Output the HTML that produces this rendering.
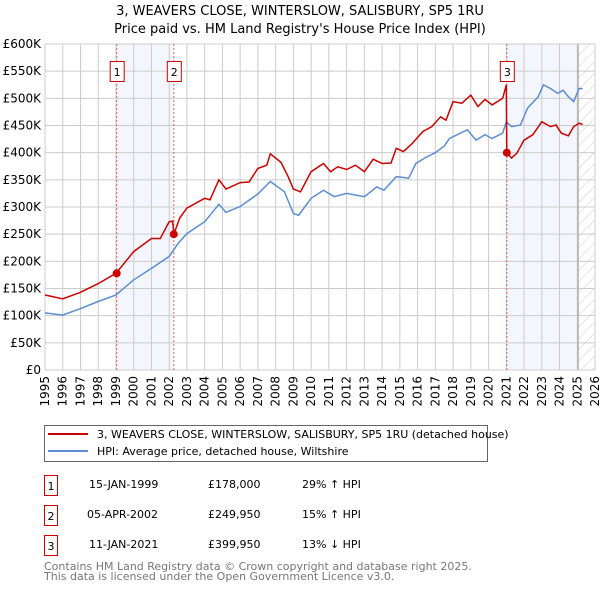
<!DOCTYPE html>
<html><head><meta charset="utf-8"><style>
body{margin:0;background:#fff;width:600px;height:590px;overflow:hidden;font-family:"DejaVu Sans","Liberation Sans",sans-serif}
svg text{font-family:"DejaVu Sans","Liberation Sans",sans-serif}
</style></head><body>
<svg id="chart" width="600" height="590" xmlns="http://www.w3.org/2000/svg">
<defs><pattern id="hatch" width="8" height="8" patternUnits="userSpaceOnUse" patternTransform="rotate(45)"><line x1="0" y1="0" x2="0" y2="8" stroke="#ccc" stroke-width="1"/></pattern></defs>
<text x="300" y="15" text-anchor="middle" font-size="13">3, WEAVERS CLOSE, WINTERSLOW, SALISBURY, SP5 1RU</text>
<text x="300" y="33" text-anchor="middle" font-size="13">Price paid vs. HM Land Registry's House Price Index (HPI)</text>
<g id="plot"></g>
<g>
<rect x="44.5" y="425.5" width="443" height="36" fill="#fff" stroke="#666"/>
<line x1="48" y1="434" x2="88" y2="434" stroke="#cc0000" stroke-width="2"/>
<text x="97" y="438" font-size="11">3, WEAVERS CLOSE, WINTERSLOW, SALISBURY, SP5 1RU (detached house)</text>
<line x1="48" y1="451" x2="88" y2="451" stroke="#5b8dd0" stroke-width="2"/>
<text x="97" y="455" font-size="11">HPI: Average price, detached house, Wiltshire</text>
</g>
<g font-size="11">
<rect x="44.5" y="475.5" width="13" height="20" fill="#fff" stroke="#cc0000"/><text x="51" y="490" text-anchor="middle">1</text>
<text x="89" y="488">15-JAN-1999</text><text x="208" y="488">£178,000</text><text x="302" y="488">29% ↑ HPI</text>
<rect x="44.5" y="505.5" width="13" height="20" fill="#fff" stroke="#cc0000"/><text x="51" y="520" text-anchor="middle">2</text>
<text x="87" y="518">05-APR-2002</text><text x="208" y="518">£249,950</text><text x="302" y="518">15% ↑ HPI</text>
<rect x="44.5" y="535.5" width="13" height="20" fill="#fff" stroke="#cc0000"/><text x="51" y="550" text-anchor="middle">3</text>
<text x="89" y="548">11-JAN-2021</text><text x="208" y="548">£399,950</text><text x="302" y="548">13% ↓ HPI</text>
</g>
<text x="44" y="570" font-size="11" fill="#777">Contains HM Land Registry data © Crown copyright and database right 2025.</text>
<text x="44" y="580" font-size="11" fill="#777">This data is licensed under the Open Government Licence v3.0.</text>
</svg>
<script>
const yTicks=[0,50,100,150,200,250,300,350,400,450,500,550,600];
const yTickLabels=["£0","£50K","£100K","£150K","£200K","£250K","£300K","£350K","£400K","£450K","£500K","£550K","£600K"];
const xYears=[1995,1996,1997,1998,1999,2000,2001,2002,2003,2004,2005,2006,2007,2008,2009,2010,2011,2012,2013,2014,2015,2016,2017,2018,2019,2020,2021,2022,2023,2024,2025,2026];
const hpiT=[1995,1996,1997,1998,1999,2000,2001,2002,2002.5,2003,2004,2004.8,2005.2,2006,2007,2007.7,2008.5,2009,2009.3,2010,2010.7,2011.3,2012,2013,2013.7,2014.1,2014.8,2015.5,2015.9,2016.5,2017,2017.5,2017.8,2018.8,2019.3,2019.8,2020.2,2020.8,2021.0,2021.3,2021.8,2022.2,2022.8,2023.1,2023.5,2023.9,2024.2,2024.5,2024.8,2025.1,2025.3];
const hpiV=[105,101,113,126,138,166,187,209,233,251,273,305,290,301,324,347,328,288,285,316,331,319,325,319,337,331,356,353,380,392,400,412,426,442,423,433,426,436,457,448,451,482,503,525,518,509,515,503,494,518,518];
const paidT=[1995,1996,1997,1998,1999,2000,2001,2001.5,2002,2002.2,2002.26,2002.6,2003,2004,2004.3,2004.8,2005.2,2006,2006.5,2007,2007.5,2007.7,2008.3,2008.7,2009,2009.4,2010,2010.7,2011.1,2011.5,2012,2012.5,2013,2013.5,2014,2014.5,2014.8,2015.2,2015.7,2016.3,2016.8,2017.3,2017.6,2018,2018.5,2019,2019.4,2019.8,2020.2,2020.8,2021.0,2021.03,2021.3,2021.6,2022,2022.5,2023,2023.5,2023.8,2024.1,2024.5,2024.8,2025.1,2025.3];
const paidV=[138,131,143,159,178,218,242,242,273,274,250,280,298,316,313,350,333,345,346,371,377,398,382,356,333,328,365,380,365,374,369,377,365,388,380,381,408,402,417,439,448,466,460,494,491,506,485,498,488,500,525,400,390,399,423,433,457,448,451,436,431,448,454,452];
const saleT=[1999.04,2002.26,2021.03];
const saleV=[178,249.95,399.95];
const saleLabels=["1","2","3"];
const NS="http://www.w3.org/2000/svg";
const L=45,R=595,T=44,B=370;
const xs=t=>L+(t-1995)*(R-L)/31;
const ys=v=>B-v*(B-T)/600;
const g=document.getElementById('plot');
function mk(tag,attrs,parent){const e=document.createElementNS(NS,tag);for(const k in attrs)e.setAttribute(k,attrs[k]);(parent||g).appendChild(e);return e;}
// shaded spans
let s1=mk('rect',{x:xs(saleT[0]),y:T,width:xs(saleT[1])-xs(saleT[0]),height:B-T,fill:'#eef3fc',opacity:0.7});


let s2=mk('rect',{x:xs(saleT[2]),y:T,width:xs(2025.05)-xs(saleT[2]),height:B-T,fill:'#eef3fc',opacity:0.7});


let h=mk('rect',{x:xs(2025.05),y:T,width:R-xs(2025.05),height:B-T,fill:'url(#hatch)'});


// grid
yTicks.forEach((v,i)=>{
  let l=mk('line',{x1:L,x2:R,y1:ys(v),y2:ys(v),stroke:'#ccc','stroke-width':1});
  
  
  let t=mk('text',{x:L-4,y:ys(v)+4,'text-anchor':'end','font-size':'12'});t.textContent=yTickLabels[i];
  
  
});
xYears.forEach(y=>{
  let l=mk('line',{x1:xs(y),x2:xs(y),y1:T,y2:B,stroke:'#ccc','stroke-width':1});
  
  
  let t=mk('text',{transform:`translate(${xs(y)+4},${B+6}) rotate(-90)`,'text-anchor':'end','font-size':'12'});t.textContent=y;
  
  
});
let ln=mk('line',{x1:xs(2025.05),x2:xs(2025.05),y1:T,y2:B,stroke:'#999','stroke-width':1});


let fr=mk('rect',{x:L,y:T,width:R-L,height:B-T,fill:'none',stroke:'#ccc'});


// sale markers lines & labels
saleT.forEach((t,i)=>{
  let l=mk('line',{x1:xs(t),x2:xs(t),y1:T,y2:B,stroke:'#e06060','stroke-width':1,'stroke-dasharray':'2,2'});
  
  
});
const pts=(T_,V_)=>T_.map((t,i)=>xs(t).toFixed(1)+','+ys(V_[i]).toFixed(1)).join(' ');
let hp=mk('polyline',{points:pts(hpiT,hpiV),fill:'none',stroke:'#5b8dd0','stroke-width':1.5});


let pp=mk('polyline',{points:pts(paidT,paidV),fill:'none',stroke:'#cc0000','stroke-width':1.5});


saleT.forEach((t,i)=>{
  let c=mk('circle',{cx:xs(t),cy:ys(saleV[i]),r:4,fill:'#cc0000'});
  
  
  let bx=mk('rect',{x:xs(t)-6.5,y:61.5,width:14,height:20,fill:'#fff',stroke:'#cc0000'});
  
  
  let tx=mk('text',{x:xs(t)+0.5,y:76,'text-anchor':'middle','font-size':'11'});tx.textContent=saleLabels[i];
  
  
});
</script>
</body></html>
